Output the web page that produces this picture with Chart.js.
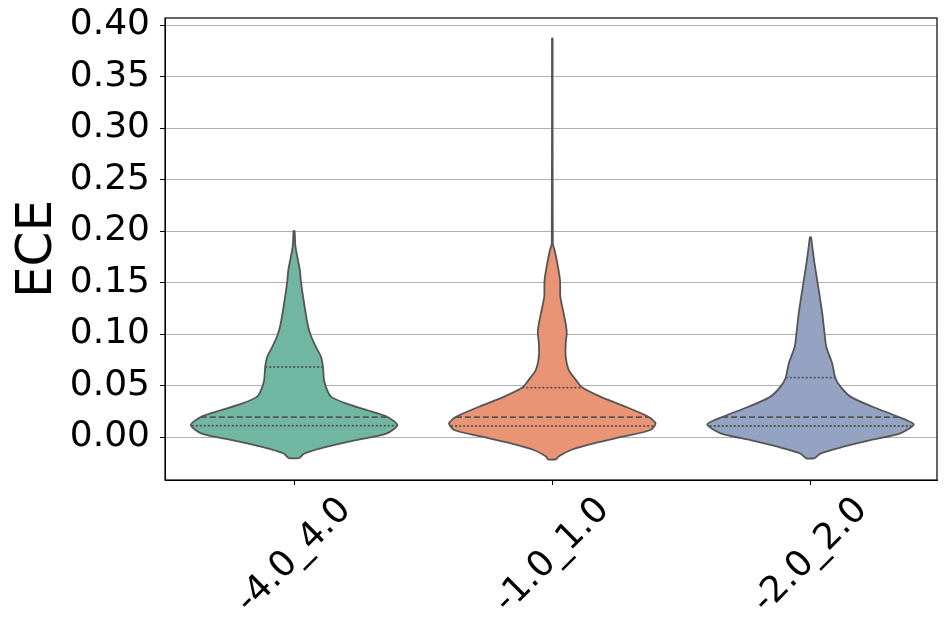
<!DOCTYPE html>
<html>
<head>
<meta charset="utf-8">
<script src="https://cdn.jsdelivr.net/npm/chart.js@4.4.1/dist/chart.umd.min.js"></script>
<style>
  html, body { margin: 0; padding: 0; background: #fff; }
  #wrap { width: 949px; height: 638px; }
</style>
</head>
<body>
<div id="wrap"><canvas id="violin"></canvas></div>
<script>
// categories on the x axis
const categories = ['-4.0_4.0', '-1.0_1.0', '-2.0_2.0'];
const yTicks = [0, 0.05, 0.10, 0.15, 0.20, 0.25, 0.30, 0.35, 0.40];

// violin outlines: ECE levels and relative density (1 = widest)
const levelsA = [-0.0205, -0.016, -0.0094, -0.003, 0.0036, 0.0117, 0.0197, 0.026, 0.0327, 0.039, 0.0456, 0.0553, 0.068, 0.078, 0.0877, 0.099, 0.110, 0.136, 0.152, 0.162, 0.185, 0.200];
const densA   = [0.05, 0.10, 0.32, 0.60, 0.90, 1.0, 0.90, 0.71, 0.50, 0.36, 0.32, 0.29, 0.28, 0.26, 0.21, 0.16, 0.13, 0.087, 0.065, 0.056, 0.013, 0.005];

const levelsB = [-0.0217, -0.019, -0.0126, -0.006, 0.0003, 0.0068, 0.0133, 0.0197, 0.0294, 0.039, 0.048, 0.0553, 0.065, 0.078, 0.091, 0.1007, 0.110, 0.120, 0.136, 0.152, 0.1686, 0.1816, 0.188, 0.387];
const densB   = [0.04, 0.06, 0.18, 0.41, 0.68, 0.95, 1.0, 0.93, 0.71, 0.47, 0.29, 0.23, 0.16, 0.13, 0.13, 0.14, 0.13, 0.11, 0.078, 0.075, 0.049, 0.022, 0.005, 0.003];

const levelsC = [-0.0207, -0.0158, -0.0094, -0.003, 0.0036, 0.0123, 0.0197, 0.0294, 0.039, 0.0489, 0.0576, 0.0715, 0.0877, 0.1007, 0.120, 0.136, 0.152, 0.1686, 0.185, 0.194];
const densC   = [0.04, 0.10, 0.32, 0.58, 0.87, 1.0, 0.85, 0.60, 0.39, 0.29, 0.24, 0.21, 0.153, 0.136, 0.114, 0.09, 0.065, 0.039, 0.017, 0.005];

// Q1, median, Q3
const quartilesA = [0.011, 0.0194, 0.068];
const quartilesB = [0.0107, 0.0194, 0.048];
const quartilesC = [0.0107, 0.0194, 0.0576];

const fills = ['#71b6a0', '#e99575', '#95a3c3'];
const edge = '#555555';
const maxHalf = 0.4;

function outline(i, levels, dens) {
    const right = levels.map((v, k) => ({ x: i + dens[k] * maxHalf, y: v }));
    const left = levels.map((v, k) => ({ x: i - dens[k] * maxHalf, y: v })).reverse();
    return right.concat(left, [right[0]]);
}

function widthAt(levels, dens, v) {
    for (let k = 1; k < levels.length; k++) {
        if (v <= levels[k]) {
            const t = (v - levels[k - 1]) / (levels[k] - levels[k - 1]);
            return (dens[k - 1] + t * (dens[k] - dens[k - 1])) * maxHalf;
        }
    }
    return 0;
}

const violins = [
    [levelsA, densA, quartilesA],
    [levelsB, densB, quartilesB],
    [levelsC, densC, quartilesC]
];

const datasets = [];
violins.forEach(([lv, dn, qs], i) => {
    qs.forEach((q, k) => {
        const w = widthAt(lv, dn, q);
        datasets.push({
            data: [{ x: i - w, y: q }, { x: i + w, y: q }],
            showLine: true,
            borderColor: edge,
            borderWidth: 1.8,
            borderDash: k === 1 ? [6, 3] : [2, 2],
            pointRadius: 0,
            fill: false,
            order: 0
        });
    });
    datasets.push({
        data: outline(i, lv, dn),
        showLine: true,
        borderColor: edge,
        borderWidth: 1.8,
        backgroundColor: fills[i],
        fill: 'shape',
        tension: 0.25,
        pointRadius: 0,
        order: 1
    });
});

// full box around the plot
const frame = {
    id: 'frame',
    afterDraw(chart) {
        const { ctx, chartArea: a } = chart;
        ctx.save();
        ctx.strokeStyle = '#000';
        ctx.lineWidth = 1.2;
        ctx.strokeRect(a.left, a.top, a.right - a.left, a.bottom - a.top);
        ctx.restore();
    }
};

// rotated x labels centred on the ticks
const xLabels = {
    id: 'xLabels',
    afterDraw(chart) {
        const ctx = chart.ctx, xs = chart.scales.x;
        ctx.save();
        ctx.font = '36px "DejaVu Sans"';
        ctx.fillStyle = '#000';
        ctx.textAlign = 'center';
        ctx.textBaseline = 'middle';
        categories.forEach((c, i) => {
            ctx.save();
            ctx.translate(xs.getPixelForValue(i), xs.top + 76);
            ctx.rotate(-Math.PI / 4);
            ctx.fillText(c, 0, 0);
            ctx.restore();
        });
        ctx.restore();
    }
};

new Chart(document.getElementById('violin').getContext('2d'), {
    type: 'scatter',
    data: { datasets: datasets },
    options: {
        responsive: true,
        maintainAspectRatio: false,
        animation: false,
        layout: { padding: { top: 18, right: 12, left: 0, bottom: 0 } },
        plugins: { legend: { display: false }, tooltip: { enabled: false } },
        scales: {
            x: {
                type: 'linear',
                min: -0.5,
                max: 2.49,
                afterBuildTicks: s => { s.ticks = categories.map((c, i) => ({ value: i })); },
                afterFit: s => { s.height = 158; },
                ticks: { display: false },
                grid: { drawOnChartArea: false, drawTicks: true, tickLength: 5, tickColor: '#000' },
                border: { color: '#000' }
            },
            y: {
                min: -0.0417,
                max: 0.4068,
                afterBuildTicks: s => { s.ticks = yTicks.map(v => ({ value: v })); },
                afterFit: s => { s.width = 165; s.paddingTop = 0; s.paddingBottom = 0; },
                ticks: {
                    color: '#000',
                    padding: 10,
                    font: { family: 'DejaVu Sans', size: 36 },
                    callback: v => v.toFixed(2)
                },
                grid: { color: '#b0b0b0', lineWidth: 1, tickLength: 5, tickColor: '#000' },
                border: { color: '#000' },
                title: {
                    display: true,
                    text: 'ECE',
                    color: '#000',
                    padding: { top: 8, bottom: 0 },
                    font: { family: 'DejaVu Sans', size: 50 }
                }
            }
        }
    },
    plugins: [frame, xLabels]
});
</script>
</body>
</html>
